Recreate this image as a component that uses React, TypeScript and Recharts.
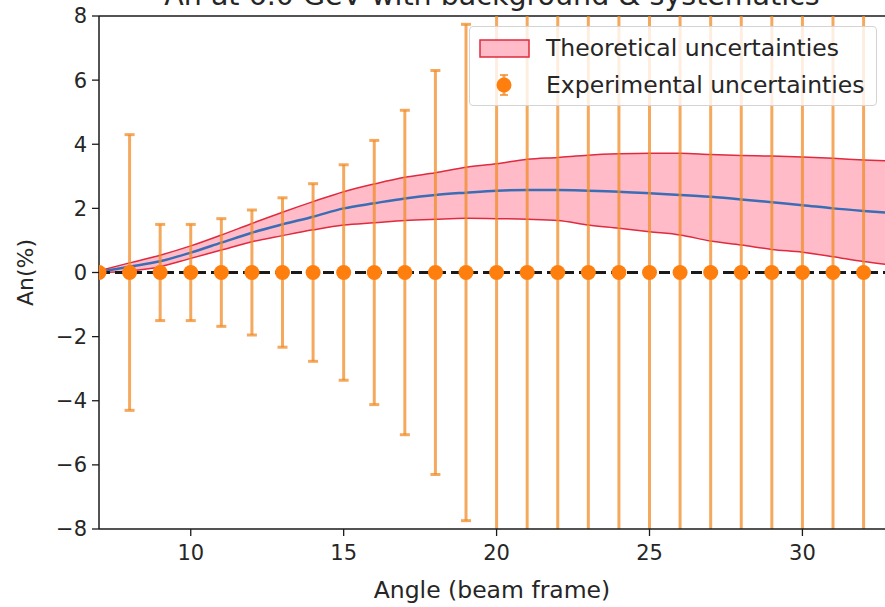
import React from 'react';
import {
  ComposedChart,
  Area,
  Line,
  Scatter,
  ErrorBar,
  XAxis,
  YAxis,
  ReferenceLine,
} from 'recharts';

// Theory band: lower / central / upper An(%) per angle
const angles = [7, 8, 9, 10, 11, 12, 13, 14, 15, 16, 17, 18, 19, 20, 21, 22, 23, 24, 25, 26, 27, 28, 29, 30, 31, 32, 33];
const thUpper = [0.05, 0.3, 0.54, 0.83, 1.17, 1.53, 1.88, 2.21, 2.52, 2.76, 2.97, 3.11, 3.28, 3.39, 3.53, 3.59, 3.66, 3.7, 3.72, 3.72, 3.68, 3.65, 3.63, 3.6, 3.56, 3.51, 3.47];
const thCentral = [0.02, 0.18, 0.35, 0.62, 0.93, 1.24, 1.5, 1.74, 2.0, 2.16, 2.31, 2.42, 2.49, 2.55, 2.57, 2.57, 2.55, 2.52, 2.47, 2.42, 2.36, 2.28, 2.19, 2.1, 2.0, 1.92, 1.85];
const thLower = [0.0, 0.05, 0.18, 0.44, 0.7, 0.96, 1.15, 1.33, 1.48, 1.55, 1.62, 1.66, 1.69, 1.68, 1.66, 1.62, 1.48, 1.38, 1.27, 1.17, 0.98, 0.86, 0.72, 0.63, 0.49, 0.34, 0.22];

// Pseudo-data points with their experimental errors
const expAngles = [7, 8, 9, 10, 11, 12, 13, 14, 15, 16, 17, 18, 19, 20, 21, 22, 23, 24, 25, 26, 27, 28, 29, 30, 31, 32];
const expValues = [0, 0, 0, 0, 0, 0, 0, 0, 0, 0, 0, 0, 0, 0, 0, 0, 0, 0, 0, 0, 0, 0, 0, 0, 0, 0];
const expErrors = [0.1, 4.3, 1.5, 1.5, 1.68, 1.95, 2.33, 2.77, 3.36, 4.12, 5.06, 6.3, 7.74, 9.3, 11.0, 12.9, 15.0, 17.3, 19.8, 22.5, 25.4, 28.5, 31.8, 35.3, 39.0, 43.0];

const xTicks = [10, 15, 20, 25, 30];
const yTicks = [-8, -6, -4, -2, 0, 2, 4, 6, 8];

const W = 885;
const H = 607;
const PLOT_LEFT = 99;
const PLOT_TOP = 16;
const X_AXIS_H = 78;

const FONT = '"DejaVu Sans", sans-serif';
const INK = '#262626';
const ORANGE = '#ff7f0e';
const BAR = 'rgba(240,140,40,0.75)';
const BAND_EDGE = '#e02a3e';
const BAND_FILL = '#ffbcc8';

const bandData = angles.map((a, i) => ({
  angle: a,
  band: [thLower[i], thUpper[i]],
  lower: thLower[i],
  upper: thUpper[i],
  central: thCentral[i],
}));

const pointData = expAngles.map((a, i) => ({
  angle: a,
  an: expValues[i],
  err: expErrors[i],
}));

const tickStyle = { fontSize: 21, fill: INK, fontFamily: FONT };

const YLabel = ({ viewBox }: any) => {
  const cy = viewBox.y + viewBox.height / 2;
  return (
    <text
      x={25}
      y={cy}
      transform={`rotate(-90, 25, ${cy})`}
      textAnchor="middle"
      dominantBaseline="central"
      fontSize={22}
      fontFamily={FONT}
      fill={INK}
    >
      An(%)
    </text>
  );
};

const XLabel = ({ viewBox }: any) => (
  <g>
    <text
      x={viewBox.x + viewBox.width / 2}
      y={viewBox.y + 69}
      textAnchor="middle"
      fontSize={23.5}
      fontFamily={FONT}
      fill={INK}
    >
      Angle (beam frame)
    </text>
    {/* title sits above the axes, mostly off the top edge */}
    <text
      x={viewBox.x + viewBox.width / 2}
      y={5}
      textAnchor="middle"
      fontSize={28.5}
      fontFamily={FONT}
      fill={INK}
    >
      An at 6.0 GeV with background &amp; systematics
    </text>
  </g>
);

const PointShape = (props: any) => {
  if (props.cx == null || props.cy == null) return null;
  return <circle cx={props.cx} cy={props.cy} r={7.5} fill={ORANGE} />;
};

const LegendBox = () => (
  <div
    style={{
      position: 'absolute',
      left: 469,
      top: 26,
      width: 408,
      height: 80,
      boxSizing: 'border-box',
      background: 'rgba(255,255,255,0.8)',
      border: '1px solid #d4d4d4',
      borderRadius: 4,
      fontFamily: FONT,
      fontSize: 23.5,
      color: INK,
    }}
  >
    <svg width={70} height={80} style={{ position: 'absolute', left: 0, top: 0 }}>
      <rect x={10} y={13} width={49} height={17} fill={BAND_FILL} stroke={BAND_EDGE} strokeWidth={1.5} />
      <line x1={34} y1={48} x2={34} y2={68} stroke={BAR} strokeWidth={3} />
      <line x1={30} y1={48} x2={38} y2={48} stroke={BAR} strokeWidth={2} />
      <line x1={30} y1={68} x2={38} y2={68} stroke={BAR} strokeWidth={2} />
      <circle cx={34} cy={58} r={7.5} fill={ORANGE} />
    </svg>
    <div style={{ position: 'absolute', left: 76, top: 6, whiteSpace: 'nowrap', lineHeight: '30px' }}>
      Theoretical uncertainties
    </div>
    <div style={{ position: 'absolute', left: 76, top: 43, whiteSpace: 'nowrap', lineHeight: '30px' }}>
      Experimental uncertainties
    </div>
  </div>
);

export default function App() {
  return (
    <div style={{ position: 'absolute', left: 0, top: 0, width: W, height: H, overflow: 'hidden', background: '#fff' }}>
      {/* keep the data points and their error bars inside the axes box */}
      <style>{`.recharts-scatter, .recharts-errorBar, .recharts-errorBars { clip-path: url(#plotClip); }`}</style>
      <svg width={0} height={0} style={{ position: 'absolute' }}>
        <defs>
          <clipPath id="plotClip">
            <rect x={PLOT_LEFT} y={PLOT_TOP} width={W - PLOT_LEFT} height={H - PLOT_TOP - X_AXIS_H} />
          </clipPath>
        </defs>
      </svg>
      <ComposedChart
        width={W}
        height={H}
        data={bandData}
        margin={{ top: PLOT_TOP, right: 0, bottom: 0, left: 0 }}
      >
        <XAxis
          dataKey="angle"
          type="number"
          domain={[7, 32.7]}
          allowDataOverflow
          ticks={xTicks}
          tick={tickStyle}
          tickSize={7}
          tickMargin={9}
          height={X_AXIS_H}
          axisLine={{ stroke: '#1a1a1a', strokeWidth: 1.5 }}
          tickLine={{ stroke: '#1a1a1a', strokeWidth: 1.3 }}
          label={<XLabel />}
        />
        <YAxis
          type="number"
          domain={[-8, 8]}
          allowDataOverflow
          ticks={yTicks}
          tick={tickStyle}
          tickSize={7}
          tickMargin={5}
          width={PLOT_LEFT}
          tickFormatter={(v: number) => (v < 0 ? `\u2212${Math.abs(v)}` : `${v}`)}
          axisLine={{ stroke: '#1a1a1a', strokeWidth: 1.5 }}
          tickLine={{ stroke: '#1a1a1a', strokeWidth: 1.3 }}
          label={<YLabel />}
        />
        <ReferenceLine y={8} stroke="#1a1a1a" strokeWidth={1.5} />
        <Area
          type="monotone"
          dataKey="band"
          stroke="none"
          fill={BAND_FILL}
          fillOpacity={1}
          isAnimationActive={false}
          activeDot={false}
        />
        <Line type="monotone" dataKey="upper" stroke={BAND_EDGE} strokeWidth={1.5} dot={false} activeDot={false} isAnimationActive={false} />
        <Line type="monotone" dataKey="lower" stroke={BAND_EDGE} strokeWidth={1.5} dot={false} activeDot={false} isAnimationActive={false} />
        <Line type="monotone" dataKey="central" stroke="#3a6db5" strokeWidth={2.5} dot={false} activeDot={false} isAnimationActive={false} />
        <ReferenceLine y={0} stroke="#1a1a1a" strokeWidth={3} strokeDasharray="11 5" />
        <Scatter data={pointData} dataKey="an" shape={<PointShape />} isAnimationActive={false}>
          <ErrorBar dataKey="err" direction="y" width={5} stroke={BAR} strokeWidth={3} />
        </Scatter>
      </ComposedChart>
      <LegendBox />
    </div>
  );
}
